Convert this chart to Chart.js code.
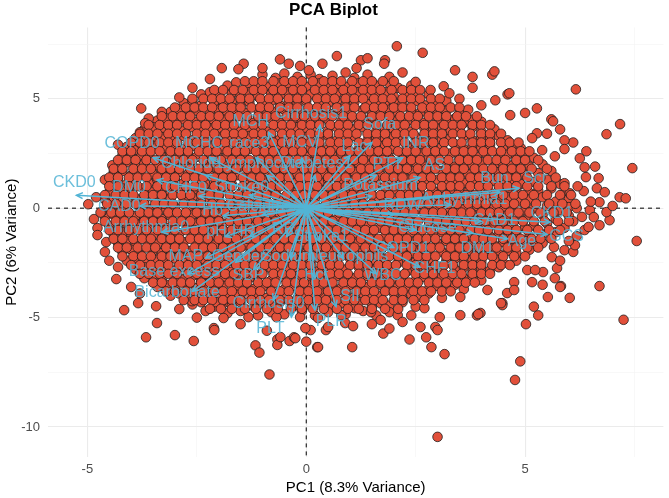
<!DOCTYPE html>
<html>
<head>
<meta charset="utf-8">
<script src="https://cdn.jsdelivr.net/npm/chart.js@4.4.0/dist/chart.umd.min.js"></script>
<style>
  html, body { margin: 0; padding: 0; background: #fff; }
  #wrap { width: 669px; height: 498px; }
</style>
</head>
<body>
<div id="wrap"><canvas id="chart"></canvas></div>
<script>
// axis ticks (gridlines every 2.5, labels on multiples of 5)
const xTicks = [-5, -2.5, 0, 2.5, 5, 7.5];
const yTicks = [-10, -7.5, -5, -2.5, 0, 2.5, 5, 7.5];

// loadings: arrow tips and label positions (PC1, PC2)
const varNames = ['CKD0','COPD0','MCHC','race3','MCH','Cirrhosis1','MCV','Sofa','Lac','INR','PTT','AS',
  'Chloride','Lymphocyte','Diabetes1','Stroke0','Potassium','Bun','Scr','Arrhythmia1','RDW','CAD1','CKD1',
  'Age','GCS','DM1','Glucose','COPD1','CHF1','WBC','Neutrophils','Sodium','Gender','MAP','Base excess','SBP',
  'Bicarbonate','Cirrhosis0','Hct','SII','PLT','PLR','Stroke1','pH','HR','RR','Hb','Calcium','CHF0','DM0',
  'CAD0','Arrhythmia0'];
const tipX = [-5.25,-3.5,-2.2,-1.15,-0.86,0.32,-0.1,1.5,1.0,2.2,1.6,2.6,
  -2.3,-0.9,0.2,-1.3,1.5,4.43,4.86,3.3,2.0,4.0,5.57,
  4.6,5.5,3.8,2.5,2.0,2.6,1.6,0.85,-0.35,-1.61,-2.3,-2.7,-1.2,
  -2.6,-0.75,0.2,0.68,-0.34,0.2,0.3,-1.85,-1.3,-0.45,-1.9,-1.0,-2.45,-3.41,
  -3.8,-3.3];
const tipY = [0.59,2.3,2.3,2.3,3.47,3.79,2.3,3.0,2.4,2.3,1.5,1.4,
  1.5,1.5,1.5,0.6,0.55,0.73,0.91,0.15,-0.3,-0.6,-0.64,
  -1.4,-1.2,-1.14,-1.0,-1.8,-2.7,-3.0,-2.3,-2.3,-2.47,-2.28,-3.0,-2.8,
  -3.8,-4.2,-3.2,-4.5,-4.97,-4.66,-1.5,-1.3,-1.3,-1.3,-0.35,-0.3,0.55,1.28,
  0.1,-1.1];
const labelX = [-5.3,-3.98,-2.45,-1.3,-1.27,0.11,-0.14,1.68,1.1,2.5,1.86,2.93,
  -2.64,-1.05,0.23,-1.48,1.7,4.3,5.23,3.61,2.2,4.3,5.61,
  4.93,5.95,3.91,2.77,2.2,2.93,1.75,0.95,-0.41,-1.55,-2.75,-3.02,-1.32,
  -2.95,-0.86,0.23,1.0,-0.82,0.57,0.34,-2.05,-1.43,-0.52,-2.14,-1.16,-2.75,-4.05,
  -4.27,-3.66];
const labelY = [1.15,2.97,2.97,2.97,3.97,4.34,3.0,3.8,2.8,2.97,2.0,1.96,
  2.05,2.05,2.05,0.96,1.05,1.37,1.37,0.37,0.14,-0.55,-0.23,
  -1.55,-1.28,-1.83,-0.87,-1.83,-2.74,-3.06,-2.19,-2.19,-2.19,-2.19,-2.92,-3.06,
  -3.88,-4.34,-3.1,-4.06,-5.48,-5.2,-1.32,-1.05,-1.05,-1.0,-0.09,0.05,0.91,0.96,
  0.09,-0.91];

const scores = [
[-1.0,6.1],[-0.7,5.95],[-0.5,6.15],[-0.2,6.0],[0.1,6.1],[0.3,5.9],[0.6,6.05],[0.9,6.2],[1.1,5.95],[1.4,6.1],
[-1.8,5.6],[-1.6,5.75],[-1.3,5.5],[-1.1,5.65],[-0.9,5.55],[-0.6,5.7],[-0.4,5.5],[-0.2,5.65],[0.0,5.55],[0.3,5.7],[0.5,5.5],[0.7,5.65],[0.9,5.55],[1.2,5.7],[1.4,5.5],[1.6,5.6],[1.9,5.7],[2.1,5.5],[2.4,5.6],
[-2.4,5.2],[-2.2,5.3],[-2.0,5.1],[-1.7,5.25],[-1.5,5.15],[-1.3,5.3],[-1.1,5.1],[-0.8,5.25],[-0.6,5.15],[-0.4,5.3],[-0.2,5.1],[0.1,5.2],[0.3,5.3],[0.5,5.1],[0.7,5.25],[0.9,5.15],[1.2,5.3],[1.4,5.1],[1.6,5.2],[1.8,5.3],[2.0,5.1],[2.3,5.25],[2.5,5.15],[2.8,5.2],
[-2.8,4.8],[-2.6,4.9],[-2.4,4.7],[-2.1,4.85],[-1.9,4.75],[-1.7,4.9],[-1.5,4.7],[-1.3,4.85],[-1.0,4.75],[-0.8,4.9],[-0.6,4.7],[-0.4,4.85],[-0.2,4.75],[0.0,4.9],[0.3,4.7],[0.5,4.8],[0.7,4.9],[0.9,4.7],[1.1,4.85],[1.4,4.75],[1.6,4.9],[1.8,4.7],[2.0,4.85],[2.2,4.75],[2.5,4.9],[2.7,4.7],[2.9,4.8],[3.2,4.9],
[-3.1,4.4],[-2.9,4.5],[-2.7,4.3],[-2.5,4.45],[-2.2,4.35],[-2.0,4.5],[-1.8,4.3],[-1.6,4.45],[-1.4,4.35],[-1.1,4.5],[-0.9,4.3],[-0.7,4.4],[-0.5,4.5],[-0.3,4.3],[-0.1,4.45],[0.2,4.35],[0.4,4.5],[0.6,4.3],[0.8,4.45],[1.0,4.35],[1.3,4.5],[1.5,4.3],[1.7,4.4],[1.9,4.5],[2.1,4.3],[2.4,4.45],[2.6,4.35],[2.8,4.5],[3.0,4.3],[3.2,4.45],[3.5,4.35],[3.7,4.5],
[-3.4,4.0],[-3.2,4.1],[-3.0,3.9],[-2.8,4.05],[-2.5,3.95],[-2.3,4.1],[-2.1,3.9],[-1.9,4.05],[-1.7,3.95],[-1.4,4.1],[-1.2,3.9],[-1.0,4.0],[-0.8,4.1],[-0.6,3.9],[-0.3,4.05],[-0.1,3.95],[0.1,4.1],[0.3,3.9],[0.5,4.05],[0.8,3.95],[1.0,4.1],[1.2,3.9],[1.4,4.0],[1.6,4.1],[1.9,3.9],[2.1,4.05],[2.3,3.95],[2.5,4.1],[2.7,3.9],[3.0,4.05],[3.2,3.95],[3.4,4.1],[3.6,3.9],[3.8,4.05],[4.0,3.95],
[-3.7,3.6],[-3.5,3.7],[-3.3,3.5],[-3.1,3.65],[-2.8,3.55],[-2.6,3.7],[-2.4,3.5],[-2.2,3.65],[-2.0,3.55],[-1.7,3.7],[-1.5,3.5],[-1.3,3.6],[-1.1,3.7],[-0.9,3.5],[-0.6,3.65],[-0.4,3.55],[-0.2,3.7],[0.0,3.5],[0.2,3.65],[0.5,3.55],[0.7,3.7],[0.9,3.5],[1.1,3.6],[1.3,3.7],[1.6,3.5],[1.8,3.65],[2.0,3.55],[2.2,3.7],[2.4,3.5],[2.7,3.65],[2.9,3.55],[3.1,3.7],[3.3,3.5],[3.5,3.6],[3.8,3.7],[4.0,3.5],[4.3,3.6],
[-3.9,3.2],[-3.7,3.3],[-3.5,3.1],[-3.3,3.25],[-3.0,3.15],[-2.8,3.3],[-2.6,3.1],[-2.4,3.25],[-2.2,3.15],[-1.9,3.3],[-1.7,3.1],[-1.5,3.2],[-1.3,3.3],[-1.1,3.1],[-0.8,3.25],[-0.6,3.15],[-0.4,3.3],[-0.2,3.1],[0.0,3.25],[0.3,3.15],[0.5,3.3],[0.7,3.1],[0.9,3.2],[1.1,3.3],[1.4,3.1],[1.6,3.25],[1.8,3.15],[2.0,3.3],[2.2,3.1],[2.5,3.25],[2.7,3.15],[2.9,3.3],[3.1,3.1],[3.3,3.2],[3.6,3.3],[3.8,3.1],[4.0,3.25],[4.2,3.15],[4.4,3.3],[4.6,3.1],
[-4.1,2.8],[-3.9,2.9],[-3.7,2.7],[-3.5,2.85],[-3.2,2.75],[-3.0,2.9],[-2.8,2.7],[-2.6,2.85],[-2.4,2.75],[-2.1,2.9],[-1.9,2.7],[-1.7,2.8],[-1.5,2.9],[-1.3,2.7],[-1.0,2.85],[-0.8,2.75],[-0.6,2.9],[-0.4,2.7],[-0.2,2.85],[0.1,2.75],[0.3,2.9],[0.5,2.7],[0.7,2.8],[0.9,2.9],[1.2,2.7],[1.4,2.85],[1.6,2.75],[1.8,2.9],[2.0,2.7],[2.3,2.85],[2.5,2.75],[2.7,2.9],[2.9,2.7],[3.1,2.8],[3.4,2.9],[3.6,2.7],[3.8,2.85],[4.0,2.75],[4.2,2.9],[4.5,2.7],[4.7,2.85],[4.9,2.75],
[-4.2,2.4],[-4.0,2.5],[-3.8,2.3],[-3.6,2.45],[-3.3,2.35],[-3.1,2.5],[-2.9,2.3],[-2.7,2.45],[-2.5,2.35],[-2.2,2.5],[-2.0,2.3],[-1.8,2.4],[-1.6,2.5],[-1.4,2.3],[-1.1,2.45],[-0.9,2.35],[-0.7,2.5],[-0.5,2.3],[-0.3,2.45],[0.0,2.35],[0.2,2.5],[0.4,2.3],[0.6,2.4],[0.8,2.5],[1.1,2.3],[1.3,2.45],[1.5,2.35],[1.7,2.5],[1.9,2.3],[2.2,2.45],[2.4,2.35],[2.6,2.5],[2.8,2.3],[3.0,2.4],[3.3,2.5],[3.5,2.3],[3.7,2.45],[3.9,2.35],[4.1,2.5],[4.4,2.3],[4.6,2.45],[4.8,2.35],[5.0,2.5],[5.2,2.3],
[-4.3,2.0],[-4.1,2.1],[-3.9,1.9],[-3.7,2.05],[-3.4,1.95],[-3.2,2.1],[-3.0,1.9],[-2.8,2.05],[-2.6,1.95],[-2.3,2.1],[-2.1,1.9],[-1.9,2.0],[-1.7,2.1],[-1.5,1.9],[-1.2,2.05],[-1.0,1.95],[-0.8,2.1],[-0.6,1.9],[-0.4,2.05],[-0.1,1.95],[0.1,2.1],[0.3,1.9],[0.5,2.0],[0.7,2.1],[1.0,1.9],[1.2,2.05],[1.4,1.95],[1.6,2.1],[1.8,1.9],[2.1,2.05],[2.3,1.95],[2.5,2.1],[2.7,1.9],[2.9,2.0],[3.2,2.1],[3.4,1.9],[3.6,2.05],[3.8,1.95],[4.0,2.1],[4.3,1.9],[4.5,2.05],[4.7,1.95],[4.9,2.1],[5.1,1.9],[5.4,2.0],
[-4.4,1.6],[-4.2,1.7],[-4.0,1.5],[-3.8,1.65],[-3.5,1.55],[-3.3,1.7],[-3.1,1.5],[-2.9,1.65],[-2.7,1.55],[-2.4,1.7],[-2.2,1.5],[-2.0,1.6],[-1.8,1.7],[-1.6,1.5],[-1.3,1.65],[-1.1,1.55],[-0.9,1.7],[-0.7,1.5],[-0.5,1.65],[-0.2,1.55],[0.0,1.7],[0.2,1.5],[0.4,1.6],[0.6,1.7],[0.9,1.5],[1.1,1.65],[1.3,1.55],[1.5,1.7],[1.7,1.5],[2.0,1.65],[2.2,1.55],[2.4,1.7],[2.6,1.5],[2.8,1.6],[3.1,1.7],[3.3,1.5],[3.5,1.65],[3.7,1.55],[3.9,1.7],[4.2,1.5],[4.4,1.65],[4.6,1.55],[4.8,1.7],[5.0,1.5],[5.3,1.6],[5.6,1.7],
[-4.5,1.2],[-4.3,1.3],[-4.1,1.1],[-3.9,1.25],[-3.6,1.15],[-3.4,1.3],[-3.2,1.1],[-3.0,1.25],[-2.8,1.15],[-2.5,1.3],[-2.3,1.1],[-2.1,1.2],[-1.9,1.3],[-1.7,1.1],[-1.4,1.25],[-1.2,1.15],[-1.0,1.3],[-0.8,1.1],[-0.6,1.25],[-0.3,1.15],[-0.1,1.3],[0.1,1.1],[0.3,1.2],[0.5,1.3],[0.8,1.1],[1.0,1.25],[1.2,1.15],[1.4,1.3],[1.6,1.1],[1.9,1.25],[2.1,1.15],[2.3,1.3],[2.5,1.1],[2.7,1.2],[3.0,1.3],[3.2,1.1],[3.4,1.25],[3.6,1.15],[3.8,1.3],[4.1,1.1],[4.3,1.25],[4.5,1.15],[4.7,1.3],[4.9,1.1],[5.2,1.2],[5.5,1.3],[5.8,1.1],
[-4.4,0.8],[-4.2,0.9],[-4.0,0.7],[-3.7,0.85],[-3.5,0.75],[-3.3,0.9],[-3.1,0.7],[-2.9,0.85],[-2.6,0.75],[-2.4,0.9],[-2.2,0.7],[-2.0,0.8],[-1.8,0.9],[-1.5,0.7],[-1.3,0.85],[-1.1,0.75],[-0.9,0.9],[-0.7,0.7],[-0.4,0.85],[-0.2,0.75],[0.0,0.9],[0.2,0.7],[0.4,0.8],[0.7,0.9],[0.9,0.7],[1.1,0.85],[1.3,0.75],[1.5,0.9],[1.8,0.7],[2.0,0.85],[2.2,0.75],[2.4,0.9],[2.6,0.7],[2.9,0.8],[3.1,0.9],[3.3,0.7],[3.5,0.85],[3.7,0.75],[4.0,0.9],[4.2,0.7],[4.4,0.85],[4.6,0.75],[4.8,0.9],[5.1,0.7],[5.3,0.8],[5.6,0.9],[5.9,0.7],
[-4.6,0.4],[-4.4,0.5],[-4.2,0.3],[-3.9,0.45],[-3.7,0.35],[-3.5,0.5],[-3.3,0.3],[-3.1,0.45],[-2.8,0.35],[-2.6,0.5],[-2.4,0.3],[-2.2,0.4],[-2.0,0.5],[-1.7,0.3],[-1.5,0.45],[-1.3,0.35],[-1.1,0.5],[-0.9,0.3],[-0.6,0.45],[-0.4,0.35],[-0.2,0.5],[0.0,0.3],[0.2,0.4],[0.5,0.5],[0.7,0.3],[0.9,0.45],[1.1,0.35],[1.3,0.5],[1.6,0.3],[1.8,0.45],[2.0,0.35],[2.2,0.5],[2.4,0.3],[2.7,0.4],[2.9,0.5],[3.1,0.3],[3.3,0.45],[3.5,0.35],[3.8,0.5],[4.0,0.3],[4.2,0.45],[4.4,0.35],[4.6,0.5],[4.9,0.3],[5.1,0.4],[5.4,0.5],[5.7,0.3],[6.0,0.45],
[-4.5,0.0],[-4.3,0.1],[-4.1,-0.1],[-3.8,0.05],[-3.6,-0.05],[-3.4,0.1],[-3.2,-0.1],[-3.0,0.05],[-2.7,-0.05],[-2.5,0.1],[-2.3,-0.1],[-2.1,0.0],[-1.9,0.1],[-1.6,-0.1],[-1.4,0.05],[-1.2,-0.05],[-1.0,0.1],[-0.8,-0.1],[-0.5,0.05],[-0.3,-0.05],[-0.1,0.1],[0.1,-0.1],[0.3,0.0],[0.6,0.1],[0.8,-0.1],[1.0,0.05],[1.2,-0.05],[1.4,0.1],[1.7,-0.1],[1.9,0.05],[2.1,-0.05],[2.3,0.1],[2.5,-0.1],[2.8,0.0],[3.0,0.1],[3.2,-0.1],[3.4,0.05],[3.6,-0.05],[3.9,0.1],[4.1,-0.1],[4.3,0.05],[4.5,-0.05],[4.7,0.1],[5.0,-0.1],[5.2,0.0],[5.5,0.1],[5.8,-0.1],[6.0,0.05],
[-4.6,-0.4],[-4.4,-0.3],[-4.2,-0.5],[-3.9,-0.35],[-3.7,-0.45],[-3.5,-0.3],[-3.3,-0.5],[-3.1,-0.35],[-2.8,-0.45],[-2.6,-0.3],[-2.4,-0.5],[-2.2,-0.4],[-2.0,-0.3],[-1.7,-0.5],[-1.5,-0.35],[-1.3,-0.45],[-1.1,-0.3],[-0.9,-0.5],[-0.6,-0.35],[-0.4,-0.45],[-0.2,-0.3],[0.0,-0.5],[0.2,-0.4],[0.5,-0.3],[0.7,-0.5],[0.9,-0.35],[1.1,-0.45],[1.3,-0.3],[1.6,-0.5],[1.8,-0.35],[2.0,-0.45],[2.2,-0.3],[2.4,-0.5],[2.7,-0.4],[2.9,-0.3],[3.1,-0.5],[3.3,-0.35],[3.5,-0.45],[3.8,-0.3],[4.0,-0.5],[4.2,-0.35],[4.4,-0.45],[4.6,-0.3],[4.9,-0.5],[5.1,-0.4],[5.4,-0.3],[5.7,-0.5],[6.0,-0.35],
[-4.5,-0.8],[-4.3,-0.7],[-4.1,-0.9],[-3.8,-0.75],[-3.6,-0.85],[-3.4,-0.7],[-3.2,-0.9],[-3.0,-0.75],[-2.7,-0.85],[-2.5,-0.7],[-2.3,-0.9],[-2.1,-0.8],[-1.9,-0.7],[-1.6,-0.9],[-1.4,-0.75],[-1.2,-0.85],[-1.0,-0.7],[-0.8,-0.9],[-0.5,-0.75],[-0.3,-0.85],[-0.1,-0.7],[0.1,-0.9],[0.3,-0.8],[0.6,-0.7],[0.8,-0.9],[1.0,-0.75],[1.2,-0.85],[1.4,-0.7],[1.7,-0.9],[1.9,-0.75],[2.1,-0.85],[2.3,-0.7],[2.5,-0.9],[2.8,-0.8],[3.0,-0.7],[3.2,-0.9],[3.4,-0.75],[3.6,-0.85],[3.9,-0.7],[4.1,-0.9],[4.3,-0.75],[4.5,-0.85],[4.7,-0.7],[5.0,-0.9],[5.2,-0.8],[5.5,-0.7],[5.9,-0.9],
[-4.4,-1.2],[-4.2,-1.1],[-4.0,-1.3],[-3.7,-1.15],[-3.5,-1.25],[-3.3,-1.1],[-3.1,-1.3],[-2.9,-1.15],[-2.6,-1.25],[-2.4,-1.1],[-2.2,-1.3],[-2.0,-1.2],[-1.8,-1.1],[-1.5,-1.3],[-1.3,-1.15],[-1.1,-1.25],[-0.9,-1.1],[-0.7,-1.3],[-0.4,-1.15],[-0.2,-1.25],[0.0,-1.1],[0.2,-1.3],[0.4,-1.2],[0.7,-1.1],[0.9,-1.3],[1.1,-1.15],[1.3,-1.25],[1.5,-1.1],[1.8,-1.3],[2.0,-1.15],[2.2,-1.25],[2.4,-1.1],[2.6,-1.3],[2.9,-1.2],[3.1,-1.1],[3.3,-1.3],[3.5,-1.15],[3.7,-1.25],[4.0,-1.1],[4.2,-1.3],[4.4,-1.15],[4.6,-1.25],[4.8,-1.1],[5.1,-1.3],[5.4,-1.2],[5.7,-1.1],
[-4.3,-1.6],[-4.1,-1.5],[-3.9,-1.7],[-3.6,-1.55],[-3.4,-1.65],[-3.2,-1.5],[-3.0,-1.7],[-2.8,-1.55],[-2.5,-1.65],[-2.3,-1.5],[-2.1,-1.7],[-1.9,-1.6],[-1.7,-1.5],[-1.4,-1.7],[-1.2,-1.55],[-1.0,-1.65],[-0.8,-1.5],[-0.6,-1.7],[-0.3,-1.55],[-0.1,-1.65],[0.1,-1.5],[0.3,-1.7],[0.5,-1.6],[0.8,-1.5],[1.0,-1.7],[1.2,-1.55],[1.4,-1.65],[1.6,-1.5],[1.9,-1.7],[2.1,-1.55],[2.3,-1.65],[2.5,-1.5],[2.7,-1.7],[3.0,-1.6],[3.2,-1.5],[3.4,-1.7],[3.6,-1.55],[3.8,-1.65],[4.1,-1.5],[4.3,-1.7],[4.5,-1.55],[4.7,-1.65],[5.0,-1.5],[5.2,-1.7],[5.4,-1.6],
[-4.2,-2.0],[-4.0,-1.9],[-3.8,-2.1],[-3.5,-1.95],[-3.3,-2.05],[-3.1,-1.9],[-2.9,-2.1],[-2.7,-1.95],[-2.4,-2.05],[-2.2,-1.9],[-2.0,-2.1],[-1.8,-2.0],[-1.6,-1.9],[-1.3,-2.1],[-1.1,-1.95],[-0.9,-2.05],[-0.7,-1.9],[-0.5,-2.1],[-0.2,-1.95],[0.0,-2.05],[0.2,-1.9],[0.4,-2.1],[0.6,-2.0],[0.9,-1.9],[1.1,-2.1],[1.3,-1.95],[1.5,-2.05],[1.7,-1.9],[2.0,-2.1],[2.2,-1.95],[2.4,-2.05],[2.6,-1.9],[2.8,-2.1],[3.1,-2.0],[3.3,-1.9],[3.5,-2.1],[3.7,-1.95],[3.9,-2.05],[4.2,-1.9],[4.4,-2.1],[4.6,-1.95],[4.8,-2.05],[5.1,-1.9],
[-4.1,-2.4],[-3.9,-2.3],[-3.7,-2.5],[-3.4,-2.35],[-3.2,-2.45],[-3.0,-2.3],[-2.8,-2.5],[-2.6,-2.35],[-2.3,-2.45],[-2.1,-2.3],[-1.9,-2.5],[-1.7,-2.4],[-1.5,-2.3],[-1.2,-2.5],[-1.0,-2.35],[-0.8,-2.45],[-0.6,-2.3],[-0.4,-2.5],[-0.1,-2.35],[0.1,-2.45],[0.3,-2.3],[0.5,-2.5],[0.7,-2.4],[1.0,-2.3],[1.2,-2.5],[1.4,-2.35],[1.6,-2.45],[1.8,-2.3],[2.1,-2.5],[2.3,-2.35],[2.5,-2.45],[2.7,-2.3],[2.9,-2.5],[3.2,-2.4],[3.4,-2.3],[3.6,-2.5],[3.8,-2.35],[4.0,-2.45],[4.3,-2.3],[4.5,-2.5],[4.8,-2.4],
[-3.9,-2.8],[-3.7,-2.7],[-3.5,-2.9],[-3.2,-2.75],[-3.0,-2.85],[-2.8,-2.7],[-2.6,-2.9],[-2.4,-2.75],[-2.1,-2.85],[-1.9,-2.7],[-1.7,-2.9],[-1.5,-2.8],[-1.3,-2.7],[-1.0,-2.9],[-0.8,-2.75],[-0.6,-2.85],[-0.4,-2.7],[-0.2,-2.9],[0.1,-2.75],[0.3,-2.85],[0.5,-2.7],[0.7,-2.9],[0.9,-2.8],[1.2,-2.7],[1.4,-2.9],[1.6,-2.75],[1.8,-2.85],[2.0,-2.7],[2.3,-2.9],[2.5,-2.75],[2.7,-2.85],[2.9,-2.7],[3.1,-2.9],[3.4,-2.8],[3.6,-2.7],[3.8,-2.9],[4.0,-2.75],[4.2,-2.85],[4.4,-2.7],
[-3.7,-3.2],[-3.5,-3.1],[-3.3,-3.3],[-3.0,-3.15],[-2.8,-3.25],[-2.6,-3.1],[-2.4,-3.3],[-2.2,-3.15],[-1.9,-3.25],[-1.7,-3.1],[-1.5,-3.3],[-1.3,-3.2],[-1.1,-3.1],[-0.8,-3.3],[-0.6,-3.15],[-0.4,-3.25],[-0.2,-3.1],[0.0,-3.3],[0.3,-3.15],[0.5,-3.25],[0.7,-3.1],[0.9,-3.3],[1.1,-3.2],[1.4,-3.1],[1.6,-3.3],[1.8,-3.15],[2.0,-3.25],[2.2,-3.1],[2.5,-3.3],[2.7,-3.15],[2.9,-3.25],[3.1,-3.1],[3.3,-3.3],[3.6,-3.2],[3.8,-3.1],[4.0,-3.3],
[-3.4,-3.6],[-3.2,-3.5],[-3.0,-3.7],[-2.7,-3.55],[-2.5,-3.65],[-2.3,-3.5],[-2.1,-3.7],[-1.9,-3.55],[-1.6,-3.65],[-1.4,-3.5],[-1.2,-3.7],[-1.0,-3.6],[-0.8,-3.5],[-0.5,-3.7],[-0.3,-3.55],[-0.1,-3.65],[0.1,-3.5],[0.3,-3.7],[0.6,-3.55],[0.8,-3.65],[1.0,-3.5],[1.2,-3.7],[1.4,-3.6],[1.7,-3.5],[1.9,-3.7],[2.1,-3.55],[2.3,-3.65],[2.5,-3.5],[2.8,-3.7],[3.0,-3.55],[3.2,-3.65],[3.4,-3.5],[3.6,-3.7],
[-3.1,-4.0],[-2.9,-3.9],[-2.7,-4.1],[-2.4,-3.95],[-2.2,-4.05],[-2.0,-3.9],[-1.8,-4.1],[-1.6,-3.95],[-1.3,-4.05],[-1.1,-3.9],[-0.9,-4.1],[-0.7,-4.0],[-0.5,-3.9],[-0.2,-4.1],[0.0,-3.95],[0.2,-4.05],[0.4,-3.9],[0.6,-4.1],[0.9,-3.95],[1.1,-4.05],[1.3,-3.9],[1.5,-4.1],[1.7,-4.0],[2.0,-3.9],[2.2,-4.1],[2.4,-3.95],[2.6,-4.05],[2.8,-3.9],[3.1,-4.1],
[-2.6,-4.4],[-2.4,-4.3],[-2.1,-4.5],[-1.9,-4.35],[-1.7,-4.45],[-1.5,-4.3],[-1.2,-4.5],[-1.0,-4.35],[-0.8,-4.45],[-0.6,-4.3],[-0.3,-4.5],[-0.1,-4.35],[0.1,-4.45],[0.3,-4.3],[0.6,-4.5],[0.8,-4.35],[1.0,-4.45],[1.2,-4.3],[1.5,-4.5],[1.7,-4.35],[1.9,-4.45],[2.2,-4.3],[2.5,-4.5],
[-1.8,-4.8],[-1.5,-4.7],[-1.1,-4.9],[-0.8,-4.75],[-0.5,-4.85],[-0.1,-4.7],[0.2,-4.9],[0.5,-4.75],[0.9,-4.85],[1.3,-4.7],[1.6,-4.9],[1.9,-4.75],
[2.07,7.4],[2.66,7.1],[6.16,5.43],[-0.6,6.8],[0.7,6.95],[-1.93,6.4],[-1.43,6.6],[-1.55,6.35],[-0.14,6.5],[3.4,6.3],[4.25,6.1],[4.3,6.25],[3.8,6.0],[-3.77,4.56],[-2.9,5.06],[-2.6,5.5],[5.6,4.06],[5.27,4.56],[5.0,4.35],[4.6,5.2],[1.8,6.76],[1.25,6.76],[1.4,6.85],[1.78,6.6],[0.37,6.6],[-0.4,6.6],[0.06,6.3],[-1.0,6.4],[1.15,6.4],[3.14,5.57],[3.27,5.25],[2.84,5.4],[1.9,6.0],[2.5,5.77],[2.2,6.2],[3.8,5.5],[3.5,5.0],[4.0,4.7],[-2.2,5.9],[-3.3,4.4],[-3.6,4.1],
[7.17,3.84],[6.86,3.38],[7.45,1.83],[7.55,-1.5],[7.25,-5.1],[6.7,-3.56],[6.02,-4.1],[5.52,-4.06],[5.2,-4.5],[5.3,-4.9],[5.02,-5.3],[4.48,-4.34],[3.9,-4.9],[7.16,0.5],[7.3,0.45],[6.93,-0.55],[6.7,-0.78],[6.86,-0.18],[6.68,1.37],[6.39,1.42],[6.64,0.91],[6.82,0.73],[6.7,0.27],[6.36,1.87],[6.25,2.28],[6.1,3.0],[5.9,3.1],[5.64,3.97],[4.64,5.25],[4.32,4.93],[4.66,4.25],[5.27,3.42],[5.16,3.2],[5.39,2.65],[5.68,2.37],[5.9,1.14],[6.34,0.78],[6.02,0.68],[6.48,-0.09],[6.57,-0.41],[6.18,0.0],[6.36,-1.0],[6.45,-0.86],[6.18,-1.28],[5.9,-1.92],[6.1,-2.0],[6.14,-1.69],[5.66,-1.78],[5.61,-2.24],[5.73,-2.74],[5.68,-3.2],[5.82,-3.56],[5.16,-3.38],[5.41,-2.92],[5.05,-2.83],[5.23,-2.83],[4.75,-3.38],[4.59,-3.88],[4.75,-3.74],[4.14,-3.74],[4.48,-4.43],[3.98,-4.79],[5.8,-3.6],[3.52,-4.06],[3.52,-4.89],[3.93,-4.84],[4.45,-4.34],[3.05,-4.98],[2.7,-4.57],[2.61,-5.43],[2.95,-5.43],[2.09,-4.89],[1.7,-5.11],[1.48,-4.75],[1.11,-4.57],[0.89,-5.25],[-0.14,-4.98],
[6.4,2.6],[6.6,1.9],[5.9,2.7],[6.2,1.0],[6.5,0.3],[7.0,0.1],[6.3,-0.4],[6.0,-1.5],[5.8,-2.4],[5.4,-3.5],[5.8,3.6],[5.5,3.4],[6.1,-0.6],
[-3.68,3.88],[-3.8,3.47],[-3.93,2.65],[-4.43,1.96],[-4.39,1.69],[-4.5,0.73],[-4.98,0.18],[-4.68,-0.18],[-4.77,-0.91],[-4.77,-1.23],[-4.57,-1.55],[-4.3,-2.69],[-4.34,-3.24],[-4.16,-4.66],[-3.41,-5.25],[-3.84,-4.34],[-3.43,-4.48],[-2.9,-4.61],[-2.61,-4.25],[-2.3,-4.7],[-2.11,-5.48],[-1.89,-5.02],[-1.95,-4.34],[-1.7,-4.2],[-4.3,2.9],[-4.6,1.3],[-4.8,0.5],[-4.85,-0.5],[-4.6,-2.0],[-4.5,-2.4],[-4.0,-3.6],[-3.8,-3.9],
[-3.66,-5.9],[-3.0,-5.8],[-2.57,-6.07],[-2.1,-5.57],[-1.16,-6.27],[-1.07,-6.6],[-0.66,-6.0],[-0.66,-6.25],[-0.38,-6.07],[-0.28,-5.9],[0.0,-6.1],[0.25,-6.35],[1.05,-6.35],[1.76,-5.73],[2.36,-6.0],[2.74,-5.9],[2.86,-6.35],[3.16,-6.67],[4.89,-7.0],[4.77,-7.85],[-0.84,-7.6],[3.0,-10.45],[3.0,-5.57],[0.45,-5.57],[0.1,-5.57],[-2.07,-4.29],[-1.32,-4.98],[-0.68,-4.98],[-0.59,-5.89],[-0.25,-5.94],[-0.02,-5.48],[0.27,-5.02],[0.5,-5.43],[0.8,-4.89],[1.07,-5.39],[0.27,-6.35],[0.43,-4.11],[1.5,-5.3],[2.2,-5.2],[-1.5,-5.3],[-2.5,-5.0],[-0.9,-5.6],[1.9,-5.5],[2.4,-4.9]
];

// further scores filling the dense core, one PC2 level per row
const midRowY = [5.8, 5.4, 5.0, 4.6, 4.2, 3.8, 3.4, 3.0, 2.6, 2.2, 1.8, 1.4, 1.0, 0.6, 0.2,
  -0.2, -0.6, -1.0, -1.4, -1.8, -2.2, -2.6, -3.0, -3.4, -3.8, -4.2, -4.6];
const midRowX = [
[-1.4,-1.2,-1.0,-0.75,-0.5,-0.3,-0.1,0.15,0.4,0.6,0.8,1.05,1.3,1.5,1.75,2.0],
[-2.1,-1.9,-1.65,-1.45,-1.2,-1.0,-0.75,-0.55,-0.3,-0.1,0.2,0.4,0.6,0.85,1.05,1.3,1.5,1.7,1.95,2.2,2.4,2.6],
[-2.6,-2.35,-2.15,-1.95,-1.75,-1.5,-1.3,-1.05,-0.85,-0.65,-0.4,-0.2,0.0,0.25,0.45,0.65,0.9,1.1,1.3,1.55,1.75,1.95,2.2,2.4,2.6,2.85,3.05],
[-3.0,-2.75,-2.55,-2.35,-2.15,-1.9,-1.7,-1.5,-1.25,-1.05,-0.85,-0.6,-0.4,-0.2,0.05,0.25,0.45,0.7,0.9,1.1,1.35,1.55,1.75,2.0,2.2,2.4,2.65,2.85,3.05,3.3,3.5],
[-3.3,-3.05,-2.85,-2.65,-2.4,-2.2,-2.0,-1.75,-1.55,-1.35,-1.1,-0.9,-0.7,-0.45,-0.25,-0.05,0.2,0.4,0.6,0.85,1.05,1.25,1.5,1.7,1.9,2.15,2.35,2.55,2.8,3.0,3.2,3.45,3.65,3.9],
[-3.6,-3.35,-3.15,-2.95,-2.7,-2.5,-2.3,-2.05,-1.85,-1.65,-1.4,-1.2,-1.0,-0.75,-0.55,-0.35,-0.1,0.1,0.3,0.55,0.75,0.95,1.2,1.4,1.6,1.85,2.05,2.25,2.5,2.7,2.9,3.15,3.35,3.55,3.8,4.0,4.2],
[-3.8,-3.6,-3.4,-3.15,-2.95,-2.75,-2.5,-2.3,-2.1,-1.85,-1.65,-1.45,-1.2,-1.0,-0.8,-0.55,-0.35,-0.15,0.1,0.3,0.5,0.75,0.95,1.15,1.4,1.6,1.8,2.05,2.25,2.45,2.7,2.9,3.1,3.35,3.55,3.75,4.0,4.2,4.45],
[-4.0,-3.8,-3.6,-3.35,-3.15,-2.95,-2.7,-2.5,-2.3,-2.05,-1.85,-1.65,-1.4,-1.2,-1.0,-0.75,-0.55,-0.35,-0.1,0.1,0.3,0.55,0.75,0.95,1.2,1.4,1.6,1.85,2.05,2.25,2.5,2.7,2.9,3.15,3.35,3.55,3.8,4.0,4.2,4.45,4.65,4.85],
[-4.2,-4.0,-3.75,-3.55,-3.35,-3.1,-2.9,-2.7,-2.45,-2.25,-2.05,-1.8,-1.6,-1.4,-1.15,-0.95,-0.75,-0.5,-0.3,-0.1,0.15,0.35,0.55,0.8,1.0,1.2,1.45,1.65,1.85,2.1,2.3,2.5,2.75,2.95,3.15,3.4,3.6,3.8,4.05,4.25,4.45,4.7,4.9,5.1],
[-4.3,-4.1,-3.9,-3.65,-3.45,-3.25,-3.0,-2.8,-2.6,-2.35,-2.15,-1.95,-1.7,-1.5,-1.3,-1.05,-0.85,-0.65,-0.4,-0.2,0.0,0.25,0.45,0.65,0.9,1.1,1.3,1.55,1.75,1.95,2.2,2.4,2.6,2.85,3.05,3.25,3.5,3.7,3.9,4.15,4.35,4.55,4.8,5.0,5.3],
[-4.4,-4.2,-3.95,-3.75,-3.55,-3.3,-3.1,-2.9,-2.65,-2.45,-2.25,-2.0,-1.8,-1.6,-1.35,-1.15,-0.95,-0.7,-0.5,-0.3,-0.05,0.15,0.35,0.6,0.8,1.0,1.25,1.45,1.65,1.9,2.1,2.3,2.55,2.75,2.95,3.2,3.4,3.6,3.85,4.05,4.25,4.5,4.7,4.9,5.15,5.5],
[-4.5,-4.3,-4.05,-3.85,-3.65,-3.4,-3.2,-3.0,-2.75,-2.55,-2.35,-2.1,-1.9,-1.7,-1.45,-1.25,-1.05,-0.8,-0.6,-0.4,-0.15,0.05,0.25,0.5,0.7,0.9,1.15,1.35,1.55,1.8,2.0,2.2,2.45,2.65,2.85,3.1,3.3,3.5,3.75,3.95,4.15,4.4,4.6,4.8,5.05,5.35,5.7],
[-4.5,-4.3,-4.05,-3.85,-3.65,-3.4,-3.2,-3.0,-2.75,-2.55,-2.35,-2.1,-1.9,-1.7,-1.45,-1.25,-1.05,-0.8,-0.6,-0.4,-0.15,0.05,0.25,0.5,0.7,0.9,1.15,1.35,1.55,1.8,2.0,2.2,2.45,2.65,2.85,3.1,3.3,3.5,3.75,3.95,4.15,4.4,4.6,4.8,5.05,5.3,5.6,5.9],
[-4.6,-4.35,-4.15,-3.95,-3.7,-3.5,-3.3,-3.05,-2.85,-2.65,-2.4,-2.2,-2.0,-1.75,-1.55,-1.35,-1.1,-0.9,-0.7,-0.45,-0.25,-0.05,0.2,0.4,0.6,0.85,1.05,1.25,1.5,1.7,1.9,2.15,2.35,2.55,2.8,3.0,3.2,3.45,3.65,3.85,4.1,4.3,4.5,4.75,4.95,5.2,5.5,5.8,6.05],
[-4.55,-4.35,-4.1,-3.9,-3.7,-3.45,-3.25,-3.05,-2.8,-2.6,-2.4,-2.15,-1.95,-1.75,-1.5,-1.3,-1.1,-0.85,-0.65,-0.45,-0.2,0.0,0.2,0.45,0.65,0.85,1.1,1.3,1.5,1.75,1.95,2.15,2.4,2.6,2.8,3.05,3.25,3.45,3.7,3.9,4.1,4.35,4.55,4.75,5.0,5.25,5.55,5.85,6.15],
[-4.7,-4.45,-4.25,-4.05,-3.8,-3.6,-3.4,-3.15,-2.95,-2.75,-2.5,-2.3,-2.1,-1.85,-1.65,-1.45,-1.2,-1.0,-0.8,-0.55,-0.35,-0.15,0.1,0.3,0.5,0.75,0.95,1.15,1.4,1.6,1.8,2.05,2.25,2.45,2.7,2.9,3.1,3.35,3.55,3.75,4.0,4.2,4.4,4.65,4.85,5.1,5.35,5.65,5.95],
[-4.6,-4.35,-4.15,-3.95,-3.7,-3.5,-3.3,-3.05,-2.85,-2.65,-2.4,-2.2,-2.0,-1.75,-1.55,-1.35,-1.1,-0.9,-0.7,-0.45,-0.25,-0.05,0.2,0.4,0.6,0.85,1.05,1.25,1.5,1.7,1.9,2.15,2.35,2.55,2.8,3.0,3.2,3.45,3.65,3.85,4.1,4.3,4.5,4.75,4.95,5.2,5.45,5.75,6.0],
[-4.5,-4.3,-4.05,-3.85,-3.65,-3.4,-3.2,-3.0,-2.75,-2.55,-2.35,-2.1,-1.9,-1.7,-1.45,-1.25,-1.05,-0.8,-0.6,-0.4,-0.15,0.05,0.25,0.5,0.7,0.9,1.15,1.35,1.55,1.8,2.0,2.2,2.45,2.65,2.85,3.1,3.3,3.5,3.75,3.95,4.15,4.4,4.6,4.8,5.05,5.3,5.55,5.8],
[-4.4,-4.2,-3.95,-3.75,-3.55,-3.3,-3.1,-2.9,-2.65,-2.45,-2.25,-2.0,-1.8,-1.6,-1.35,-1.15,-0.95,-0.7,-0.5,-0.3,-0.05,0.15,0.35,0.6,0.8,1.0,1.25,1.45,1.65,1.9,2.1,2.3,2.55,2.75,2.95,3.2,3.4,3.6,3.85,4.05,4.25,4.5,4.7,4.9,5.15,5.35,5.6],
[-4.3,-4.1,-3.85,-3.65,-3.45,-3.2,-3.0,-2.8,-2.55,-2.35,-2.15,-1.9,-1.7,-1.5,-1.25,-1.05,-0.85,-0.6,-0.4,-0.2,0.05,0.25,0.45,0.7,0.9,1.1,1.35,1.55,1.75,2.0,2.2,2.4,2.65,2.85,3.05,3.3,3.5,3.7,3.95,4.15,4.35,4.6,4.8,5.05,5.3],
[-4.2,-3.95,-3.75,-3.55,-3.3,-3.1,-2.9,-2.65,-2.45,-2.25,-2.0,-1.8,-1.6,-1.35,-1.15,-0.95,-0.7,-0.5,-0.3,-0.05,0.15,0.35,0.6,0.8,1.0,1.25,1.45,1.65,1.9,2.1,2.3,2.55,2.75,2.95,3.2,3.4,3.6,3.85,4.05,4.25,4.5,4.75,5.0],
[-4.0,-3.8,-3.55,-3.35,-3.15,-2.9,-2.7,-2.5,-2.25,-2.05,-1.85,-1.6,-1.4,-1.2,-0.95,-0.75,-0.55,-0.3,-0.1,0.1,0.35,0.55,0.75,1.0,1.2,1.4,1.65,1.85,2.05,2.3,2.5,2.7,2.95,3.15,3.35,3.6,3.8,4.0,4.25,4.45,4.65],
[-3.8,-3.6,-3.35,-3.15,-2.95,-2.7,-2.5,-2.3,-2.05,-1.85,-1.65,-1.4,-1.2,-1.0,-0.75,-0.55,-0.35,-0.1,0.1,0.3,0.55,0.75,0.95,1.2,1.4,1.6,1.85,2.05,2.25,2.5,2.7,2.9,3.15,3.35,3.55,3.8,4.0,4.2],
[-3.5,-3.3,-3.05,-2.85,-2.65,-2.4,-2.2,-2.0,-1.75,-1.55,-1.35,-1.1,-0.9,-0.7,-0.45,-0.25,-0.05,0.2,0.4,0.6,0.85,1.05,1.25,1.5,1.7,1.9,2.15,2.35,2.55,2.8,3.0,3.2,3.45,3.65,3.85],
[-3.2,-3.0,-2.75,-2.55,-2.35,-2.1,-1.9,-1.7,-1.45,-1.25,-1.05,-0.8,-0.6,-0.4,-0.15,0.05,0.25,0.5,0.7,0.9,1.15,1.35,1.55,1.8,2.0,2.2,2.45,2.65,2.85,3.1,3.3],
[-2.8,-2.55,-2.35,-2.15,-1.9,-1.7,-1.5,-1.25,-1.05,-0.85,-0.6,-0.4,-0.2,0.05,0.25,0.45,0.7,0.9,1.1,1.35,1.55,1.75,2.0,2.2,2.45,2.7],
[-2.2,-1.95,-1.7,-1.4,-1.15,-0.9,-0.65,-0.35,-0.1,0.15,0.4,0.7,0.95,1.2,1.5,1.8,2.1]
];

const FONT = 'Liberation Sans, Arial, Helvetica, sans-serif';
const arrowColor = '#52B4D5';

const scorePoints = scores.map(p => ({ x: p[0], y: p[1] }));
midRowX.forEach((row, r) => row.forEach(v => scorePoints.push({ x: v, y: midRowY[r] })));

// arrow shafts: origin -> tip, split with gaps
const arrowData = [];
for (let i = 0; i < varNames.length; i++) {
    arrowData.push({ x: 0, y: 0 }, { x: tipX[i], y: tipY[i] }, { x: null, y: null });
}

const biplotLayers = {
    id: 'biplotLayers',
    beforeDatasetsDraw(chart) {
        const { ctx, chartArea: a, scales: { x, y } } = chart;
        const x0 = x.getPixelForValue(0), y0 = y.getPixelForValue(0);
        ctx.save();
        ctx.strokeStyle = '#000';
        ctx.lineWidth = 1;
        ctx.setLineDash([4, 4]);
        ctx.beginPath();
        ctx.moveTo(a.left, y0); ctx.lineTo(a.right, y0);
        ctx.moveTo(x0, a.top); ctx.lineTo(x0, a.bottom);
        ctx.stroke();
        ctx.restore();
    },
    afterDatasetsDraw(chart) {
        const { ctx, scales: { x, y } } = chart;
        const x0 = x.getPixelForValue(0), y0 = y.getPixelForValue(0);
        ctx.save();
        // arrow heads
        ctx.strokeStyle = arrowColor;
        ctx.lineWidth = 1.5;
        for (let i = 0; i < varNames.length; i++) {
            const px = x.getPixelForValue(tipX[i]), py = y.getPixelForValue(tipY[i]);
            const ang = Math.atan2(py - y0, px - x0);
            ctx.beginPath();
            ctx.moveTo(px - 7 * Math.cos(ang - 0.45), py - 7 * Math.sin(ang - 0.45));
            ctx.lineTo(px, py);
            ctx.lineTo(px - 7 * Math.cos(ang + 0.45), py - 7 * Math.sin(ang + 0.45));
            ctx.stroke();
        }
        // variable labels
        ctx.font = '16px ' + FONT;
        ctx.textAlign = 'center';
        ctx.textBaseline = 'middle';
        ctx.fillStyle = 'rgba(82,180,213,0.85)';
        for (let i = 0; i < varNames.length; i++) {
            ctx.fillText(varNames[i], x.getPixelForValue(labelX[i]), y.getPixelForValue(labelY[i]));
        }
        ctx.restore();
    }
};

const gridColor = c => (c.tick && c.tick.value % 5 === 0) ? '#EBEBEB' : '#F4F4F4';
const gridWidth = c => (c.tick && c.tick.value % 5 === 0) ? 1.1 : 0.6;

new Chart(document.getElementById('chart'), {
    type: 'scatter',
    data: {
        datasets: [
            {
                label: 'Loadings',
                data: arrowData,
                showLine: true,
                spanGaps: false,
                borderColor: arrowColor,
                borderWidth: 1.5,
                pointRadius: 0,
                order: 0
            },
            {
                label: 'Scores',
                data: scorePoints,
                pointRadius: 4.8,
                pointBackgroundColor: '#E2503A',
                pointBorderColor: '#1E1E1E',
                pointBorderWidth: 0.8,
                order: 1
            }
        ]
    },
    options: {
        responsive: true,
        maintainAspectRatio: false,
        animation: false,
        events: [],
        layout: { padding: { left: 0, right: 2, top: 0, bottom: 0 } },
        plugins: {
            legend: { display: false },
            tooltip: { enabled: false },
            title: {
                display: true,
                text: 'PCA Biplot',
                color: '#000',
                font: { family: FONT, size: 17, weight: 'bold' },
                padding: { top: 0, bottom: 7 }
            }
        },
        scales: {
            x: {
                type: 'linear',
                min: -5.9,
                max: 8.16,
                afterBuildTicks: s => { s.ticks = xTicks.map(v => ({ value: v })); },
                afterFit: s => { s.height = 41; },
                ticks: {
                    autoSkip: false,
                    maxRotation: 0,
                    padding: 5,
                    color: '#4D4D4D',
                    font: { family: FONT, size: 13 },
                    callback: v => (v % 5 === 0 ? String(v) : '')
                },
                grid: { color: gridColor, lineWidth: gridWidth, drawTicks: false },
                border: { display: false },
                title: {
                    display: true,
                    text: 'PC1 (8.3% Variance)',
                    color: '#000',
                    font: { family: FONT, size: 15 },
                    padding: { top: 0, bottom: 1 }
                }
            },
            y: {
                type: 'linear',
                min: -11.37,
                max: 8.26,
                afterBuildTicks: s => { s.ticks = yTicks.map(v => ({ value: v })); },
                afterFit: s => { s.width = 48; },
                ticks: {
                    autoSkip: false,
                    padding: 8,
                    color: '#4D4D4D',
                    font: { family: FONT, size: 13 },
                    callback: v => (v % 5 === 0 ? String(v) : '')
                },
                grid: { color: gridColor, lineWidth: gridWidth, drawTicks: false },
                border: { display: false },
                title: {
                    display: true,
                    text: 'PC2 (6% Variance)',
                    color: '#000',
                    font: { family: FONT, size: 15 },
                    padding: { top: 3, bottom: 0 }
                }
            }
        }
    },
    plugins: [biplotLayers]
});
</script>
</body>
</html>
